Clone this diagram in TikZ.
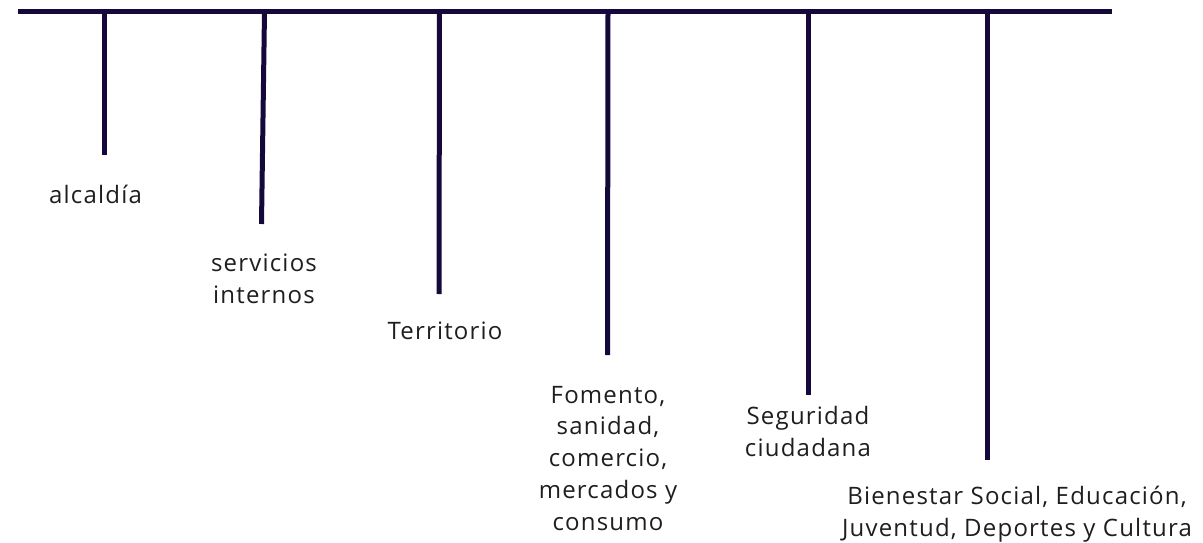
\documentclass[tikz,border=0pt]{standalone}
\usepackage{fontspec}
\setmainfont{Open Sans}[LetterSpace=5]
\definecolor{barc}{HTML}{14093A}
\definecolor{txt}{HTML}{1E1E1E}
\begin{document}
\begin{tikzpicture}[x=1pt,y=-1pt,
  bar/.style={draw=barc,line width=5pt},
  lbl/.style={font=\fontsize{24}{31.7}\selectfont, text=txt, align=center, inner sep=0pt, anchor=base}]
\useasboundingbox (0,0) rectangle (1203,543);
\coordinate (L) at (18,11.5);
\coordinate (R) at (1112,11.5);
\draw[bar] (L) -- (R);
\coordinate (t1) at (104.5,11.5); \coordinate (b1) at (104.5,155);
\coordinate (t2) at (264.5,11.5); \coordinate (b2) at (261.5,224);
\coordinate (t3) at (439.5,11.5); \coordinate (b3) at (439,294);
\coordinate (t4) at (608,11.5);   \coordinate (b4) at (607.5,355);
\coordinate (t5) at (808,11.5);   \coordinate (b5) at (808,395);
\coordinate (t6) at (987,11.5);   \coordinate (b6) at (987,460);
\foreach \i in {1,...,6} \draw[bar] (t\i) -- (b\i);
\node[lbl] (alc) at (95.5,203) {alcaldía};
\node[lbl] (ser) at (264,303) {servicios\\internos};
\node[lbl] (ter) at (445,339) {Territorio};
\node[lbl] (fom) at (608,530) {Fomento,\\sanidad,\\comercio,\\mercados y\\consumo};
\node[lbl] (seg) at (808,456) {Seguridad\\ciudadana};
\node[lbl] (bie) at (1017,536) {Bienestar Social, Educación,\\Juventud, Deportes y Cultura};
\end{tikzpicture}
\end{document}
